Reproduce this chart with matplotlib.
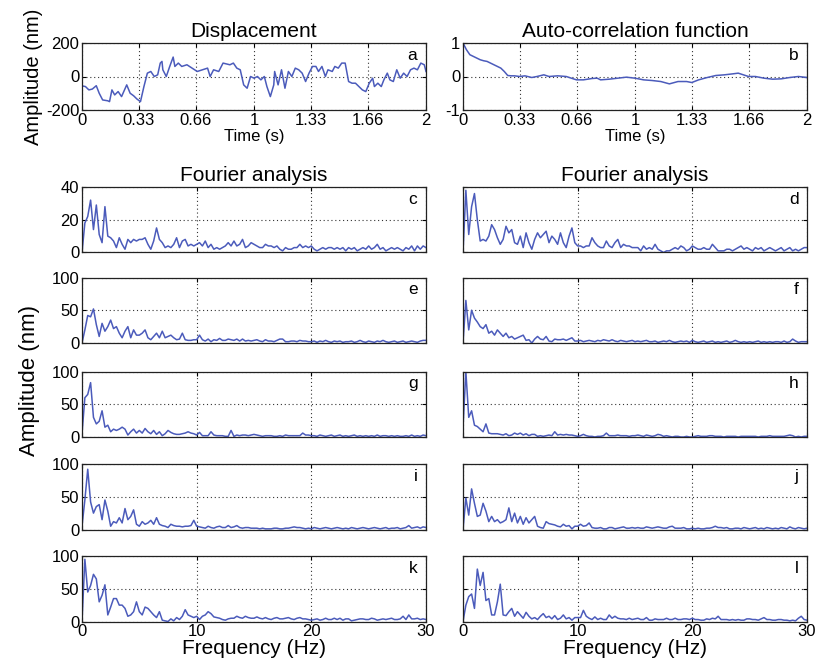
import numpy as np
import matplotlib.pyplot as plt

plt.rcParams['font.family'] = ['Liberation Sans', 'DejaVu Sans']

LINE_COLOR = '#4b5bbb'

# displacement (panel a)
disp_time = [0, 0.02, 0.04, 0.06, 0.083, 0.1, 0.12, 0.15, 0.16, 0.174, 0.19, 0.21, 0.23, 0.26,
             0.28, 0.3, 0.32, 0.34, 0.36, 0.38, 0.4, 0.42, 0.44, 0.455, 0.465, 0.47, 0.49, 0.51,
             0.53, 0.54, 0.56, 0.58, 0.61, 0.64, 0.67, 0.70, 0.73, 0.745, 0.765, 0.795, 0.82,
             0.86, 0.88, 0.9, 0.92, 0.94, 0.96, 0.98, 1.0, 1.02, 1.04, 1.06, 1.075, 1.095, 1.115,
             1.12, 1.14, 1.16, 1.18, 1.2, 1.22, 1.24, 1.26, 1.28, 1.3, 1.32, 1.34, 1.36, 1.375,
             1.395, 1.415, 1.43, 1.455, 1.47, 1.49, 1.51, 1.53, 1.55, 1.57, 1.59, 1.61, 1.63,
             1.65, 1.67, 1.69, 1.7, 1.72, 1.74, 1.755, 1.775, 1.79, 1.81, 1.83, 1.85, 1.87, 1.89,
             1.91, 1.93, 1.95, 1.97, 1.99, 2.0]
disp_nm = [-56, -60, -80, -75, -55, -100, -140, -145, -150, -80, -110, -90, -120, -50,
           -100, -115, -135, -150, -60, 20, 30, 0, 10, 80, 90, 40, 0, 60,
           116, 60, 80, 60, 70, 50, 30, 40, 50, 0, 40, 30, 80,
           70, 80, 50, 40, -50, -70, 0, -10, 0, -20, 0, -60, -120, -50,
           30, -50, 40, -70, 30, 0, 50, 40, 20, -30, 20, 60, 60, 30,
           60, 0, 40, 30, 60, 50, 80, 80, -30, -40, -40, -60, -80,
           -90, -40, -10, -60, -40, -60, -20, 20, -20, -30, 40, -10, 20, 0,
           40, 50, 40, 80, 70, 30]

# auto-correlation (panel b)
acf_time = [0, 0.02, 0.04, 0.06, 0.08, 0.1, 0.12, 0.14, 0.16, 0.18, 0.2, 0.22, 0.24, 0.26,
            0.28, 0.3, 0.33, 0.36, 0.4, 0.43, 0.47, 0.5, 0.55, 0.6, 0.63, 0.66, 0.7, 0.75,
            0.78, 0.8, 0.85, 0.9, 0.95, 1.0, 1.05, 1.1, 1.15, 1.2, 1.25, 1.3, 1.33, 1.37,
            1.42, 1.47, 1.52, 1.57, 1.6, 1.63, 1.66, 1.7, 1.75, 1.8, 1.85, 1.9, 1.95, 2.0]
acf_val = [1.0, 0.8, 0.65, 0.6, 0.55, 0.5, 0.47, 0.45, 0.4, 0.35, 0.3, 0.25, 0.15, 0.03,
           0.02, 0.02, 0.0, 0.02, -0.03, 0.0, 0.05, 0.0, 0.02, 0.0, -0.05, -0.1, -0.1, -0.06,
           -0.05, -0.1, -0.08, -0.05, -0.02, -0.05, -0.1, -0.12, -0.15, -0.22, -0.15, -0.15,
           -0.18, -0.1, -0.03, 0.03, 0.05, 0.08, 0.1, 0.05, 0.0, 0.0, -0.05, -0.08, -0.07,
           -0.03, 0.0, -0.03]

# Fourier spectra, 0..30 Hz every 0.25 Hz
freq_hz = np.linspace(0, 30, 121)

spec_c = [0, 18, 22, 32, 14, 29, 11, 6, 28, 10,
          9, 7, 3, 9, 5, 2, 8, 6, 8, 7,
          8, 8, 9, 5, 2, 7, 15, 8, 6, 3,
          4, 3, 5, 9, 3, 7, 8, 4, 5, 4,
          5, 6, 4, 7, 3, 5, 2, 3, 2, 3,
          4, 6, 4, 7, 4, 5, 8, 3, 4, 6,
          5, 4, 3, 3, 5, 4, 4, 3, 4, 2,
          1, 3, 2, 2, 3, 3, 5, 3, 4, 3,
          4, 2, 1, 2, 3, 2, 3, 3, 2, 3,
          2, 3, 1, 3, 2, 3, 1, 2, 3, 2,
          4, 2, 3, 5, 2, 3, 1, 2, 3, 2,
          3, 2, 1, 3, 2, 4, 1, 4, 2, 4,
          3]
spec_d = [0, 38, 11, 28, 36, 20, 7, 8, 7, 10,
          17, 14, 9, 5, 8, 16, 12, 14, 6, 5,
          10, 3, 12, 6, 2, 8, 12, 9, 11, 13,
          6, 10, 8, 5, 12, 6, 3, 10, 15, 6,
          4, 4, 3, 4, 4, 9, 6, 4, 3, 3,
          7, 4, 3, 6, 8, 3, 5, 4, 4, 3,
          3, 3, 1, 4, 2, 3, 2, 5, 2, 1,
          0, 1, 1, 2, 3, 2, 4, 3, 1, 2,
          4, 3, 2, 2, 3, 2, 2, 5, 3, 1,
          1, 1, 2, 2, 1, 2, 3, 4, 2, 3,
          2, 1, 3, 2, 3, 1, 2, 3, 2, 1,
          2, 3, 1, 2, 3, 1, 2, 1, 2, 3,
          3]
spec_e = [0, 20, 42, 40, 52, 28, 10, 30, 18, 25,
          35, 22, 25, 15, 8, 18, 25, 8, 20, 12,
          12, 15, 20, 8, 5, 10, 15, 8, 18, 8,
          10, 12, 8, 5, 6, 15, 5, 4, 4, 5,
          5, 12, 5, 3, 6, 2, 5, 4, 7, 4,
          4, 6, 5, 4, 6, 3, 6, 3, 4, 3,
          4, 5, 3, 2, 5, 3, 3, 2, 4, 6,
          6, 2, 2, 3, 3, 2, 4, 3, 3, 2,
          2, 3, 1, 3, 2, 4, 2, 1, 3, 2,
          3, 1, 2, 2, 3, 1, 2, 4, 2, 1,
          3, 2, 1, 3, 2, 4, 2, 1, 2, 3,
          1, 2, 3, 1, 2, 3, 2, 1, 3, 4,
          4]
spec_f = [0, 65, 20, 50, 38, 32, 25, 22, 28, 15,
          18, 12, 20, 15, 10, 15, 8, 10, 6, 8,
          10, 12, 4, 5, 0, 6, 10, 6, 5, 10,
          3, 2, 6, 5, 5, 6, 4, 6, 8, 3,
          3, 4, 2, 3, 4, 3, 2, 4, 3, 5,
          4, 3, 5, 3, 2, 4, 3, 2, 3, 4,
          2, 3, 2, 3, 4, 2, 2, 3, 1, 2,
          3, 2, 4, 2, 1, 2, 3, 2, 3, 1,
          4, 2, 1, 2, 3, 1, 2, 3, 1, 2,
          1, 2, 3, 1, 2, 4, 2, 1, 2, 1,
          2, 1, 2, 3, 1, 2, 1, 2, 1, 2,
          2, 1, 3, 1, 2, 6, 3, 1, 2, 2,
          2]
spec_g = [5, 60, 65, 83, 30, 20, 24, 40, 15, 18,
          8, 12, 10, 12, 15, 12, 3, 8, 12, 6,
          10, 6, 13, 8, 5, 10, 4, 8, 2, 5,
          10, 7, 5, 4, 4, 5, 6, 8, 6, 5,
          3, 7, 2, 2, 2, 8, 3, 2, 2, 2,
          1, 1, 10, 1, 3, 2, 3, 3, 2, 3,
          4, 3, 2, 1, 2, 2, 2, 1, 1, 2,
          1, 3, 2, 2, 2, 2, 2, 6, 3, 3,
          2, 2, 1, 3, 2, 1, 2, 3, 1, 2,
          3, 1, 2, 1, 2, 3, 1, 2, 1, 2,
          1, 2, 1, 3, 1, 2, 2, 1, 2, 1,
          2, 1, 1, 2, 1, 3, 1, 2, 1, 3,
          2]
spec_h = [15, 100, 30, 40, 18, 16, 12, 8, 20, 6,
          5, 5, 5, 4, 3, 5, 2, 3, 6, 4,
          6, 3, 5, 2, 4, 4, 1, 2, 1, 2,
          3, 2, 8, 3, 4, 3, 4, 3, 3, 2,
          1, 2, 4, 2, 1, 1, 0, 1, 1, 2,
          6, 2, 2, 2, 3, 2, 2, 2, 1, 2,
          2, 3, 2, 1, 3, 2, 1, 2, 4, 3,
          1, 2, 1, 0, 1, 1, 0, 0, 1, 0,
          0, 1, 2, 1, 1, 1, 2, 2, 1, 1,
          1, 0, 1, 1, 1, 1, 0, 1, 1, 1,
          1, 1, 1, 0, 1, 1, 1, 2, 1, 1,
          1, 1, 1, 2, 3, 2, 0, 1, 0, 1,
          1]
spec_i = [5, 45, 92, 42, 25, 35, 38, 15, 45, 28,
          5, 12, 10, 18, 10, 32, 15, 20, 30, 8,
          5, 12, 8, 10, 14, 8, 18, 8, 6, 5,
          3, 8, 6, 5, 5, 4, 5, 5, 6, 14,
          5, 4, 3, 2, 5, 3, 2, 4, 5, 3,
          3, 6, 3, 4, 6, 3, 2, 3, 3, 2,
          2, 2, 1, 2, 1, 1, 1, 2, 2, 1,
          1, 2, 2, 3, 4, 3, 3, 2, 1, 2,
          1, 3, 2, 1, 2, 3, 2, 1, 2, 3,
          2, 1, 2, 1, 3, 2, 1, 2, 3, 2,
          1, 2, 3, 2, 1, 2, 3, 1, 2, 2,
          3, 1, 2, 3, 6, 2, 3, 4, 2, 4,
          3]
spec_j = [0, 48, 22, 62, 40, 20, 22, 40, 28, 12,
          20, 12, 15, 10, 12, 15, 33, 12, 25, 10,
          20, 8, 18, 10, 15, 20, 5, 3, 2, 12,
          9, 8, 7, 5, 4, 8, 5, 6, 1, 5,
          5, 8, 5, 6, 10, 3, 2, 2, 3, 1,
          1, 3, 3, 1, 2, 3, 4, 2, 2, 3,
          2, 3, 2, 2, 4, 3, 2, 3, 4, 3,
          2, 2, 4, 5, 2, 2, 2, 3, 1, 1,
          2, 1, 2, 1, 1, 2, 2, 3, 5, 3,
          3, 2, 3, 1, 1, 2, 2, 1, 3, 2,
          1, 2, 3, 1, 2, 1, 3, 2, 1, 2,
          1, 3, 2, 1, 4, 2, 1, 3, 2, 1,
          2]
spec_k = [0, 95, 45, 55, 72, 65, 30, 40, 56, 10,
          22, 35, 35, 25, 25, 20, 8, 10, 15, 30,
          15, 10, 22, 20, 15, 10, 6, 15, 2, 1,
          0, 4, 1, 6, 3, 8, 18, 10, 8, 6,
          8, 3, 8, 10, 15, 12, 7, 6, 5, 3,
          2, 4, 5, 5, 8, 6, 5, 8, 6, 5,
          5, 7, 5, 4, 6, 4, 3, 5, 6, 4,
          4, 5, 6, 4, 3, 5, 6, 4, 4, 3,
          2, 3, 4, 2, 3, 5, 3, 3, 5, 3,
          5, 2, 4, 4, 1, 2, 3, 4, 4, 3,
          3, 5, 4, 2, 3, 4, 3, 4, 5, 3,
          3, 4, 8, 3, 10, 4, 4, 5, 3, 4,
          3]
spec_l = [0, 25, 38, 42, 20, 80, 55, 75, 32, 35,
          10, 10, 30, 57, 10, 9, 15, 20, 8, 15,
          10, 5, 14, 8, 4, 6, 3, 8, 12, 6,
          8, 4, 9, 3, 5, 10, 4, 6, 2, 6,
          6, 6, 17, 8, 5, 3, 7, 3, 5, 3,
          3, 10, 5, 8, 5, 4, 4, 3, 5, 3,
          4, 5, 3, 3, 6, 2, 2, 4, 3, 3,
          3, 5, 3, 3, 5, 3, 3, 4, 4, 3,
          5, 3, 3, 2, 2, 4, 3, 5, 4, 8,
          3, 3, 3, 2, 3, 2, 3, 2, 2, 4,
          4, 3, 3, 2, 4, 6, 3, 3, 2, 2,
          3, 3, 2, 2, 1, 2, 1, 5, 8, 3,
          2]

W, H = 817, 664
LEFT_X, RIGHT_X, AX_W = 82, 463, 344


def make_ax(fig, x_px, top_px, h_px):
    ax = fig.add_axes([x_px / W, 1 - (top_px + h_px) / H, AX_W / W, h_px / H])
    ax.tick_params(direction='in', length=3, width=0.8, top=True, right=True,
                   labelsize=10.5, pad=2)
    for sp in ax.spines.values():
        sp.set_linewidth(0.9)
        sp.set_color('#222222')
    ax.grid(True, linestyle=(0, (1, 2.5)), color='#333333', linewidth=0.8)
    ax.set_axisbelow(True)
    return ax


def panel_label(ax, letter):
    ax.text(0.975, 0.93, letter, transform=ax.transAxes, ha='right', va='top', fontsize=12.5)


fig = plt.figure(figsize=(W / 100, H / 100), dpi=100)

time_ticks = [0, 0.33, 0.66, 1, 1.33, 1.66, 2]
time_labels = ['0', '0.33', '0.66', '1', '1.33', '1.66', '2']

ax_a = make_ax(fig, LEFT_X, 43, 67)
ax_a.plot(disp_time, disp_nm, color=LINE_COLOR, lw=1.1)
ax_a.set_xlim(0, 2)
ax_a.set_ylim(-200, 200)
ax_a.set_xticks(time_ticks)
ax_a.set_xticklabels(time_labels, fontsize=12)
ax_a.set_yticks([-200, 0, 200])
ax_a.set_yticklabels(['-200', '0', '200'], fontsize=12)
ax_a.set_xlabel('Time (s)', fontsize=12, labelpad=1)
ax_a.set_title('Displacement', fontsize=15, pad=4)
ax_a.set_ylabel('Amplitude (nm)', fontsize=14.5, labelpad=2)
panel_label(ax_a, 'a')

ax_b = make_ax(fig, RIGHT_X, 43, 67)
ax_b.plot(acf_time, acf_val, color=LINE_COLOR, lw=1.1)
ax_b.set_xlim(0, 2)
ax_b.set_ylim(-1, 1)
ax_b.set_xticks(time_ticks)
ax_b.set_xticklabels(time_labels, fontsize=12)
ax_b.set_yticks([-1, 0, 1])
ax_b.set_yticklabels(['-1', '0', '1'], fontsize=12)
ax_b.set_xlabel('Time (s)', fontsize=12, labelpad=1)
ax_b.set_title('Auto-correlation function', fontsize=15, pad=4)
panel_label(ax_b, 'b')

row_tops = [187, 277.5, 371.5, 464, 556]
row_h = 65.5
spectra = [(spec_c, spec_d, 40, 'c', 'd'),
           (spec_e, spec_f, 100, 'e', 'f'),
           (spec_g, spec_h, 100, 'g', 'h'),
           (spec_i, spec_j, 100, 'i', 'j'),
           (spec_k, spec_l, 100, 'k', 'l')]

for row, (left_vals, right_vals, ymax, lab_l, lab_r) in enumerate(spectra):
    for col, (vals, lab) in enumerate([(left_vals, lab_l), (right_vals, lab_r)]):
        ax = make_ax(fig, LEFT_X if col == 0 else RIGHT_X, row_tops[row], row_h)
        ax.plot(freq_hz, vals, color=LINE_COLOR, lw=1.1)
        ax.set_xlim(0, 30)
        ax.set_ylim(0, ymax)
        ax.set_xticks([0, 10, 20, 30])
        ax.set_yticks([0, ymax / 2, ymax])
        if col == 0:
            ax.set_yticklabels(['0', str(int(ymax / 2)), str(ymax)], fontsize=12)
        else:
            ax.set_yticklabels([])
        if row == len(spectra) - 1:
            ax.set_xticklabels(['0', '10', '20', '30'], fontsize=12)
            ax.set_xlabel('Frequency (Hz)', fontsize=15, labelpad=0)
        else:
            ax.set_xticklabels([])
        if row == 0:
            ax.set_title('Fourier analysis', fontsize=15, pad=4)
        panel_label(ax, lab)

# shared y label for the Fourier panels
fig.text(30 / W, 1 - 380 / H, 'Amplitude (nm)', rotation=90, ha='center', va='center',
         fontsize=16)

fig.savefig('out.png', dpi=100)
